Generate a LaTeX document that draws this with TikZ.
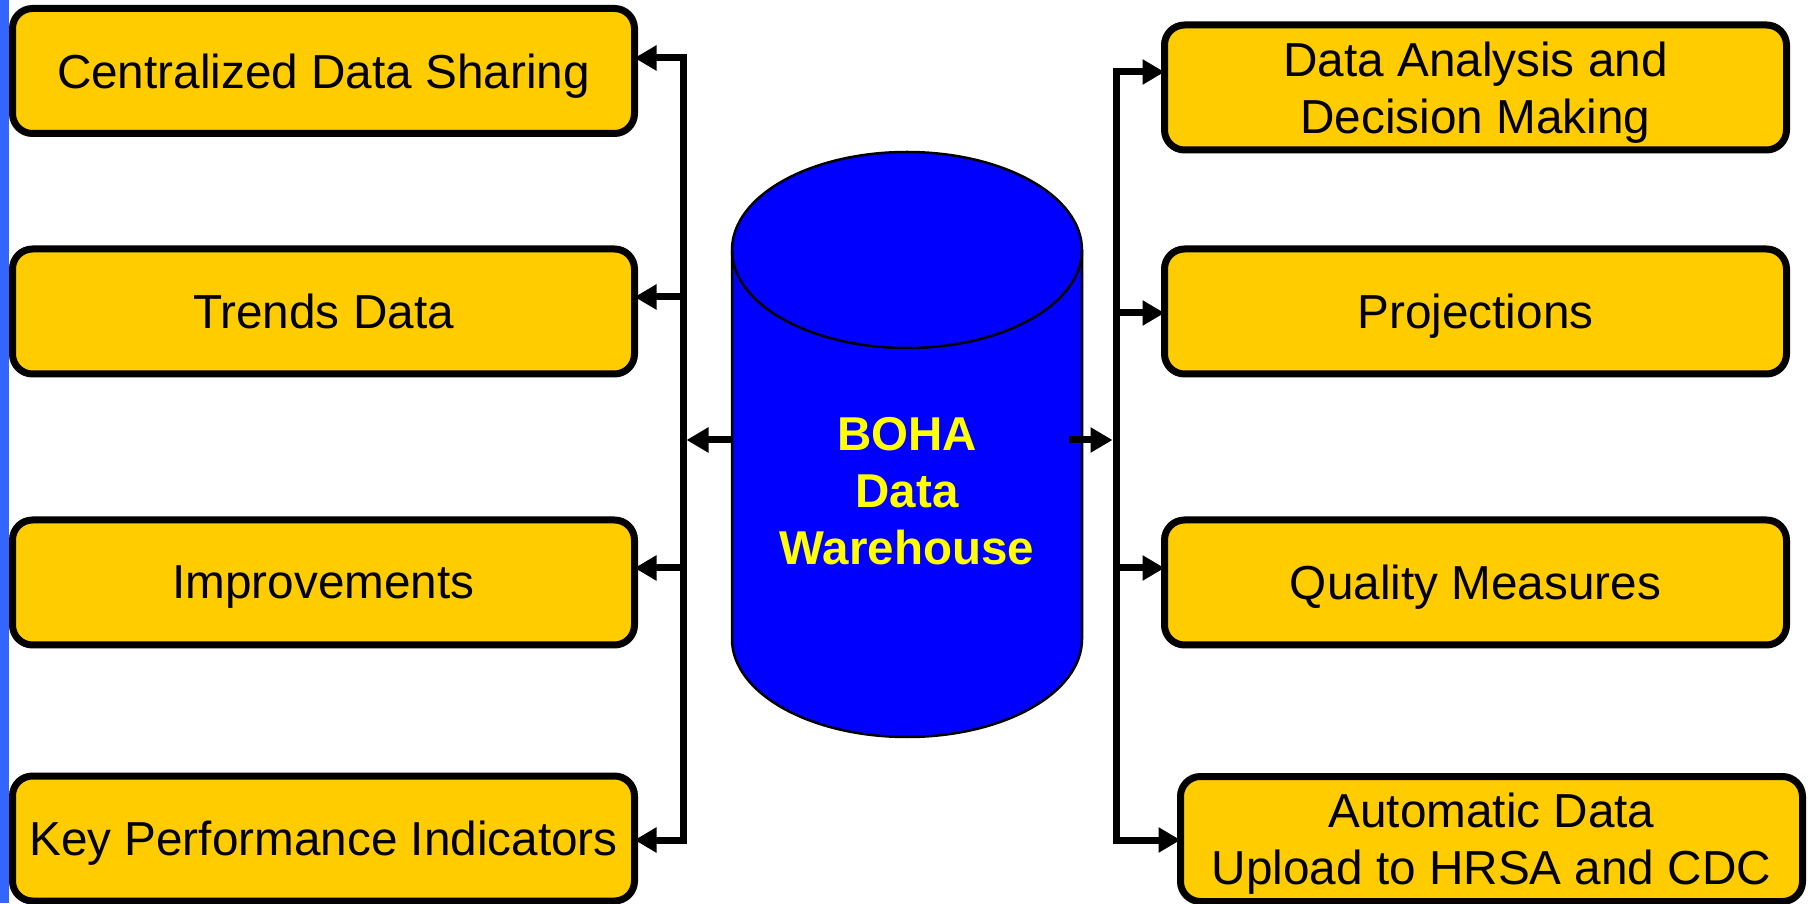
\documentclass[tikz,border=0pt]{standalone}
\usepackage{fontspec}
\setmainfont{Liberation Sans}
\usetikzlibrary{arrows.meta}
\definecolor{boxfill}{HTML}{FFCC00}
\definecolor{stripblue}{HTML}{3366FF}
\definecolor{txtyellow}{HTML}{FFFF00}
\begin{document}
\begin{tikzpicture}[x=1pt,y=1pt,
  box/.style={draw=black, line width=7pt, fill=boxfill, rounded corners=20pt,
    minimum width=622pt, minimum height=125pt, align=center, inner sep=0pt,
    text depth=0pt, font=\fontsize{47.7}{57}\selectfont},
  bus/.style={line width=7pt, line cap=rect},
  arr/.style={line width=7pt, -{Triangle[length=22pt,width=24pt]}},
  boxarr/.style={arr, shorten >=-3.5pt},
  cyl/.style={draw=black, line width=2.5pt, fill=blue},
  cyltext/.style={text=txtyellow, align=center, inner sep=0pt,
    font=\bfseries\fontsize{47.5}{57}\selectfont}
]
\useasboundingbox (0,0) rectangle (1810,903);
\fill[stripblue] (0,0) rectangle (9,903);

% left boxes
\node[box] (L1) at (323.5,832) {Centralized Data Sharing};
\node[box] (L2) at (323.5,591.5) {Trends Data};
\node[box] (L3) at (323.5,320.5) {Improvements};
\node[box] (L4) at (323.5,64.5) {Key Performance Indicators};

% right boxes
\node[box] (R1) at (1475.5,815.5) {Data Analysis and\\Decision Making};
\node[box] (R2) at (1475.5,591.5) {Projections};
\node[box] (R3) at (1475.5,320.5) {Quality Measures};
\node[box] (R4) at (1491.5,64) {Automatic Data\\Upload to HRSA and CDC};

% cylinder
\filldraw[cyl] (732,653) -- (732,264)
  arc[start angle=180, end angle=360, x radius=175, y radius=98]
  -- (1082,653)
  arc[start angle=0, end angle=180, x radius=175, y radius=98] -- cycle;
\draw[line width=2.5pt] (732,653) arc[start angle=180, end angle=360, x radius=175, y radius=98];
\node[cyltext] (wh) at (907,412) {BOHA\\Data\\Warehouse};

% bus coordinates
\coordinate (a1) at (683,845);
\coordinate (a2) at (683,606);
\coordinate (a3) at (683,335);
\coordinate (a4) at (683,63);
\coordinate (b1) at (1116,831);
\coordinate (b2) at (1116,590);
\coordinate (b3) at (1116,335);
\coordinate (b4) at (1116,63);
\coordinate (cl) at (732,463);
\coordinate (cr) at (1069,463);
\coordinate (lbus) at (686.5,463);
\coordinate (rbus) at (1112.5,463);

% buses
\draw[bus] (a1) -- (a4);
\draw[bus] (b1) -- (b4);

% arrows to boxes
\draw[boxarr] (a1) -- (a1 -| L1.east);
\draw[boxarr] (a2) -- (a2 -| L2.east);
\draw[boxarr] (a3) -- (a3 -| L3.east);
\draw[boxarr] (a4) -- (a4 -| L4.east);
\draw[boxarr] (b1) -- (b1 -| R1.west);
\draw[boxarr] (b2) -- (b2 -| R2.west);
\draw[boxarr] (b3) -- (b3 -| R3.west);
\draw[boxarr] (b4) -- (b4 -| R4.west);

% arrows from cylinder
\draw[arr] (cl) -- (lbus);
\draw[arr] (cr) -- (rbus);
\end{tikzpicture}
\end{document}
